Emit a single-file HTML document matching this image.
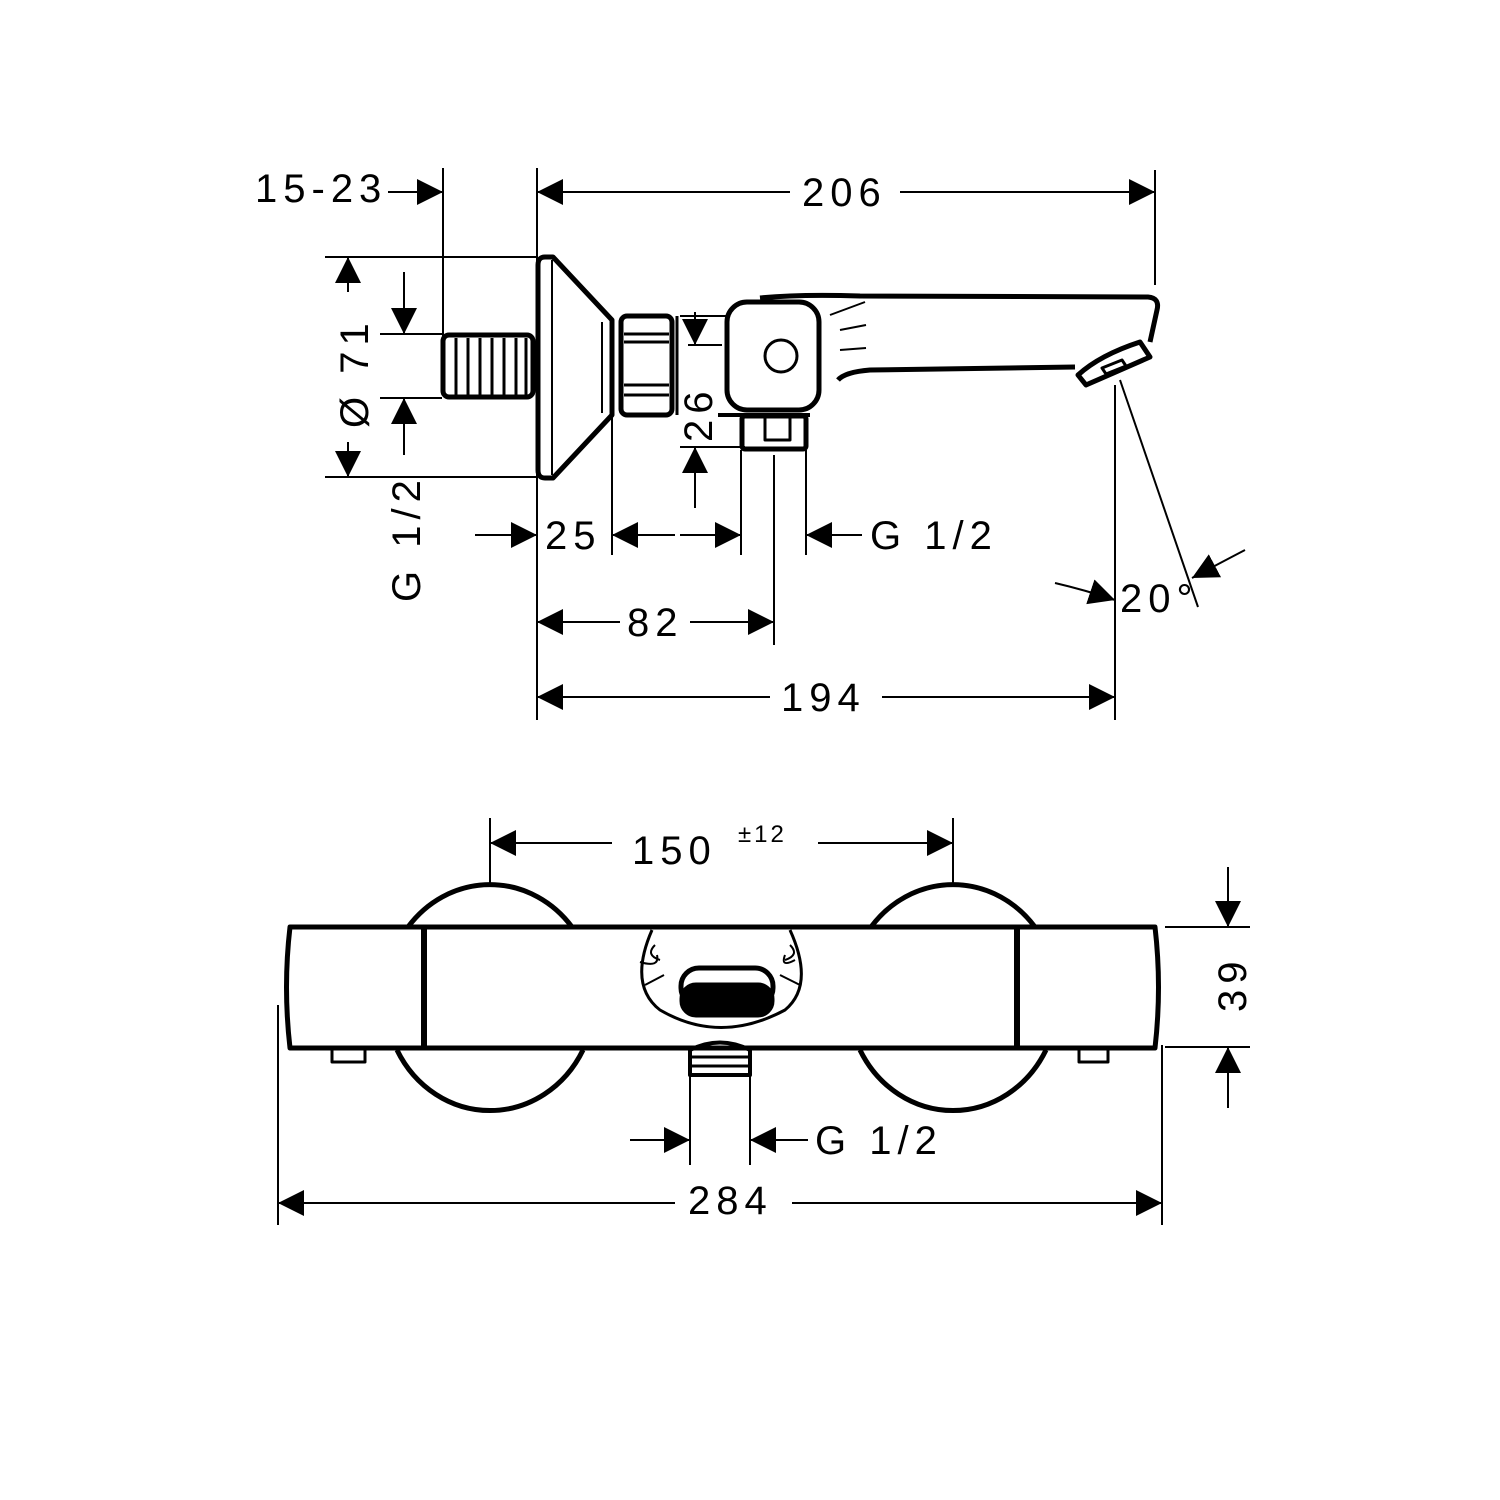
<!DOCTYPE html>
<html><head><meta charset="utf-8"><style>
html,body{margin:0;padding:0;background:#fff;width:1500px;height:1500px;overflow:hidden}
svg text{font-family:"Liberation Sans",sans-serif;font-size:40px;fill:#000;letter-spacing:6px}
</style></head><body>
<svg width="1500" height="1500" viewBox="0 0 1500 1500" xmlns="http://www.w3.org/2000/svg">
<defs>
<marker id="a" viewBox="0 0 10 10" refX="10" refY="5" markerWidth="26" markerHeight="26" markerUnits="userSpaceOnUse" orient="auto-start-reverse"><path d="M0,0 L10,5 L0,10 Z"/></marker>
</defs>
<g stroke="#000" fill="none" stroke-width="2">
<line x1="443" y1="168" x2="443" y2="336"/>
<line x1="537" y1="168" x2="537" y2="720"/>
<line x1="1155" y1="170" x2="1155" y2="285"/>
<line x1="325" y1="257" x2="537" y2="257"/>
<line x1="325" y1="477" x2="537" y2="477"/>
<line x1="380" y1="334" x2="442" y2="334"/>
<line x1="380" y1="398" x2="442" y2="398"/>
<line x1="612" y1="415" x2="612" y2="555"/>
<line x1="741" y1="450" x2="741" y2="555"/>
<line x1="806" y1="450" x2="806" y2="555"/>
<line x1="774" y1="455" x2="774" y2="645"/>
<line x1="1115" y1="385" x2="1115" y2="720"/>
<line x1="1120" y1="380" x2="1198" y2="607"/>
<line x1="680" y1="316" x2="727" y2="316"/>
<line x1="688" y1="345" x2="722" y2="345"/>
<line x1="680" y1="447" x2="745" y2="447"/>
<line x1="388" y1="192" x2="443" y2="192" marker-end="url(#a)"/>
<line x1="537" y1="192" x2="790" y2="192" marker-start="url(#a)"/>
<line x1="900" y1="192" x2="1155" y2="192" marker-end="url(#a)"/>
<line x1="348" y1="257" x2="348" y2="292" marker-start="url(#a)"/>
<line x1="348" y1="442" x2="348" y2="477" marker-end="url(#a)"/>
<line x1="404" y1="272" x2="404" y2="334" marker-end="url(#a)"/>
<line x1="404" y1="455" x2="404" y2="398" marker-end="url(#a)"/>
<line x1="695" y1="312" x2="695" y2="345" marker-end="url(#a)"/>
<line x1="695" y1="508" x2="695" y2="447" marker-end="url(#a)"/>
<line x1="475" y1="535" x2="537" y2="535" marker-end="url(#a)"/>
<line x1="675" y1="535" x2="612" y2="535" marker-end="url(#a)"/>
<line x1="680" y1="535" x2="741" y2="535" marker-end="url(#a)"/>
<line x1="862" y1="535" x2="806" y2="535" marker-end="url(#a)"/>
<line x1="537" y1="622" x2="620" y2="622" marker-start="url(#a)"/>
<line x1="690" y1="622" x2="774" y2="622" marker-end="url(#a)"/>
<line x1="537" y1="697" x2="770" y2="697" marker-start="url(#a)"/>
<line x1="882" y1="697" x2="1115" y2="697" marker-end="url(#a)"/>
<path d="M1055,583 Q1085,590 1115,600" marker-end="url(#a)"/>
<path d="M1245,550 Q1222,562 1192,578" marker-end="url(#a)"/>
</g>
<g stroke="#000" fill="none" stroke-width="5" stroke-linejoin="round">
<path d="M545,257 L553,257 L612,320 L612,415 L553,478 L545,478 Q538,478 538,470 L538,265 Q538,257 545,257 Z"/>
<line x1="552" y1="260" x2="552" y2="475" stroke-width="2"/>
<line x1="602" y1="322" x2="602" y2="413" stroke-width="2"/>
<rect x="443" y="335" width="90" height="62" rx="6"/>
<g stroke-width="3"><line x1="456" y1="338" x2="456" y2="395"/><line x1="468" y1="338" x2="468" y2="395"/><line x1="480" y1="338" x2="480" y2="395"/><line x1="492" y1="338" x2="492" y2="395"/><line x1="504" y1="338" x2="504" y2="395"/><line x1="516" y1="338" x2="516" y2="395"/><line x1="526" y1="338" x2="526" y2="395"/></g>
<rect x="621" y="316" width="51" height="99" rx="6"/>
<line x1="624" y1="334" x2="669" y2="334" stroke-width="3"/><line x1="624" y1="342" x2="669" y2="342" stroke-width="3"/>
<line x1="624" y1="385" x2="669" y2="385" stroke-width="3"/><line x1="624" y1="395" x2="669" y2="395" stroke-width="3"/>
<line x1="677" y1="316" x2="677" y2="415" stroke-width="3"/>
<path d="M760,298 Q800,294 860,296 L1148,297 Q1160,298 1157,310 L1150,342"/>
<rect x="727" y="302" width="92" height="108" rx="20"/>
<circle cx="781" cy="356" r="16" stroke-width="3"/>
<path d="M838,380 Q845,372 870,370 L1075,367" />
<path d="M830,315 L865,302 M840,330 L866,325 M840,350 L866,348" stroke-width="2"/>
<path d="M1078,375 Q1100,355 1140,342 L1150,357 L1086,385 Z" stroke-width="5"/>
<path d="M1102,368 L1122,360 L1126,366 L1106,374 Z" stroke-width="3"/>
<rect x="742" y="416" width="64" height="33" rx="3"/>
<line x1="718" y1="415" x2="810" y2="415" stroke-width="4"/>
<path d="M765,418 L765,440 L790,440 L790,418" stroke-width="3"/>
<path d="M408,927 A105,113 0 0 1 572,927"/>
<path d="M397,1050 A105,113 0 0 0 583,1050"/>
<path d="M871,927 A105,113 0 0 1 1035,927"/>
<path d="M860,1050 A105,113 0 0 0 1046,1050"/>
<path d="M290,927 L1155,927 Q1162,987 1155,1048 L290,1048 Q283,987 290,927 Z"/>
<line x1="424" y1="927" x2="424" y2="1048" stroke-width="6"/>
<line x1="1017" y1="927" x2="1017" y2="1048" stroke-width="6"/>
<path d="M652,930 Q628,985 660,1010 Q720,1045 785,1010 Q815,985 790,930" stroke-width="3"/>
<path d="M655,945 Q645,955 660,960 M640,962 Q660,968 657,955 M645,985 L664,975 M795,960 Q780,968 785,955 M800,985 L780,975 M790,945 Q800,955 785,960" stroke-width="2"/>
<rect x="681" y="968" width="92" height="38" rx="18" stroke-width="5"/>
<rect x="682" y="985" width="90" height="30" rx="14" fill="#000"/>
<path d="M332,1050 L332,1062 L365,1062 L365,1050 M1079,1050 L1079,1062 L1108,1062 L1108,1050" stroke-width="3"/>
<path d="M690,1075 L690,1050 Q720,1035 750,1050 L750,1075 Z" stroke-width="4"/>
<line x1="692" y1="1057" x2="748" y2="1057" stroke-width="3"/><line x1="692" y1="1066" x2="748" y2="1066" stroke-width="3"/>
</g>
<g stroke="#000" fill="none" stroke-width="2">
<line x1="490" y1="818" x2="490" y2="885"/>
<line x1="953" y1="818" x2="953" y2="885"/>
<line x1="490" y1="843" x2="612" y2="843" marker-start="url(#a)"/>
<line x1="818" y1="843" x2="953" y2="843" marker-end="url(#a)"/>
<line x1="1165" y1="927" x2="1250" y2="927"/>
<line x1="1165" y1="1047" x2="1250" y2="1047"/>
<line x1="1228" y1="867" x2="1228" y2="927" marker-end="url(#a)"/>
<line x1="1228" y1="1108" x2="1228" y2="1047" marker-end="url(#a)"/>
<line x1="690" y1="1075" x2="690" y2="1165"/>
<line x1="750" y1="1075" x2="750" y2="1165"/>
<line x1="630" y1="1140" x2="690" y2="1140" marker-end="url(#a)"/>
<line x1="808" y1="1140" x2="750" y2="1140" marker-end="url(#a)"/>
<line x1="278" y1="1005" x2="278" y2="1225"/>
<line x1="1162" y1="1045" x2="1162" y2="1225"/>
<line x1="278" y1="1203" x2="675" y2="1203" marker-start="url(#a)"/>
<line x1="792" y1="1203" x2="1162" y2="1203" marker-end="url(#a)"/>
</g>
<text x="255" y="202">15-23</text>
<text x="802" y="206">206</text>
<text x="545" y="549">25</text>
<text x="870" y="549">G 1/2</text>
<text x="627" y="636">82</text>
<text x="781" y="711">194</text>
<text x="1120" y="612">20°</text>
<text transform="translate(368,428) rotate(-90)">Ø 71</text>
<text transform="translate(420,602) rotate(-90)">G 1/2</text>
<text transform="translate(712,442) rotate(-90)">26</text>
<text x="632" y="864">150</text>
<text x="738" y="842" style="font-size:24px;letter-spacing:3px">±12</text>
<text transform="translate(1246,1012) rotate(-90)">39</text>
<text x="815" y="1154">G 1/2</text>
<text x="688" y="1214">284</text>
</svg>
</body></html>
